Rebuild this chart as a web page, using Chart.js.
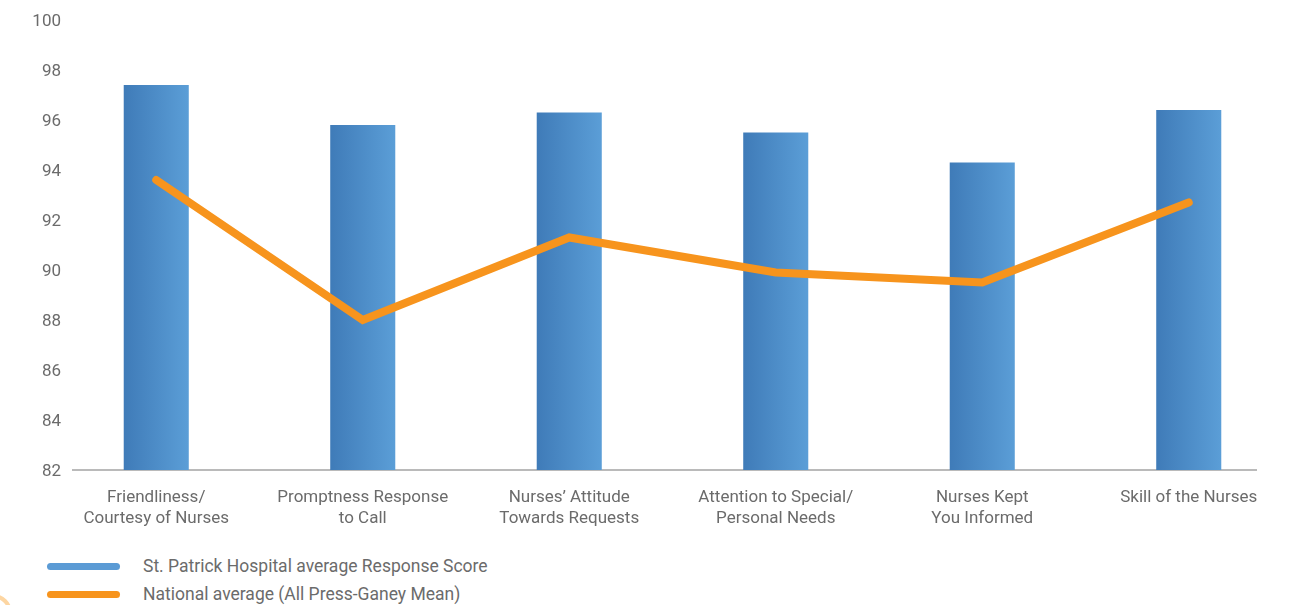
<!DOCTYPE html>
<html>
<head>
<meta charset="utf-8">
<title>Nursing Care Response Scores</title>
<script src="https://cdn.jsdelivr.net/npm/chart.js@4/dist/chart.umd.min.js"></script>
<style>
  html, body { margin: 0; padding: 0; background: #ffffff; overflow: hidden; }
  body { width: 1293px; height: 605px; position: relative; font-family: Roboto, "Open Sans", sans-serif; }
  #wrap { position: absolute; left: 0; top: 0; width: 1293px; height: 540px; }
  .legend { position: absolute; left: 47px; top: 552px; }
  .legend .row { display: flex; align-items: center; height: 28px; }
  .legend .swatch { width: 73px; height: 7px; border-radius: 4px; margin-right: 23px; }
  .legend .text { font-size: 17.5px; color: #6b6b6b; white-space: nowrap; }
  .corner { position: absolute; left: -26px; top: 594px; width: 30px; height: 30px; border-radius: 50%; border: 4px solid #fdd6a2; }
</style>
</head>
<body>
<div id="wrap"><canvas id="chart"></canvas></div>
<div class="legend">
  <div class="row"><div class="swatch" style="background:#5b9bd5"></div><div class="text">St. Patrick Hospital average Response Score</div></div>
  <div class="row"><div class="swatch" style="background:#f7941d"></div><div class="text">National average (All Press-Ganey Mean)</div></div>
</div>
<div class="corner"></div>
<script>
// Survey categories (two-line labels)
const categories = [
  ['Friendliness/', 'Courtesy of Nurses'],
  ['Promptness Response', 'to Call'],
  ['Nurses\u2019 Attitude', 'Towards Requests'],
  ['Attention to Special/', 'Personal Needs'],
  ['Nurses Kept', 'You Informed'],
  ['Skill of the Nurses']
];

// Hospital average response score per category
const hospitalScores = [97.4, 95.8, 96.3, 95.5, 94.3, 96.4];

// National Press-Ganey mean per category
const nationalScores = [93.6, 88.0, 91.3, 89.9, 89.5, 92.7];

// Value axis range and tick spacing
const yMin = 82;
const yMax = 100;
const yStep = 2;

const TEXT = '#6b6b6b';

Chart.defaults.font.family = 'Roboto, "Open Sans", sans-serif';
Chart.defaults.font.size = 17;
Chart.defaults.color = TEXT;

// Horizontal left-to-right gradient on every bar (each bar gets its own options copy)
const barGradient = {
  id: 'barGradient',
  beforeDatasetDraw(chart, args) {
    const meta = args.meta;
    if (meta.type !== 'bar') return;
    const ctx = chart.ctx;
    meta.data.forEach(el => {
      const { x, width } = el.getProps(['x', 'width'], true);
      const g = ctx.createLinearGradient(x - width / 2, 0, x + width / 2, 0);
      g.addColorStop(0, '#3f7bb8');
      g.addColorStop(1, '#5b9ed7');
      el.options = Object.assign({}, el.options, { backgroundColor: g });
    });
  }
};

// Value labels sit a little to the right of the plot's left edge
const yLabelShift = {
  id: 'yLabelShift',
  afterLayout(chart) {
    chart.scales.y.right += 9;
  }
};

// Baseline under the bars
const baseline = {
  id: 'baseline',
  beforeDatasetsDraw(chart) {
    const { ctx, chartArea } = chart;
    const y = chart.scales.y.getPixelForValue(yMin);
    ctx.save();
    ctx.strokeStyle = '#a3a3a3';
    ctx.lineWidth = 1.5;
    ctx.beginPath();
    ctx.moveTo(chartArea.left + 19, y);
    ctx.lineTo(chartArea.right - 35, y);
    ctx.stroke();
    ctx.restore();
  }
};

new Chart(document.getElementById('chart'), {
  data: {
    labels: categories,
    datasets: [
      {
        type: 'line',
        label: 'National average (All Press-Ganey Mean)',
        data: nationalScores,
        borderColor: '#f7941d',
        backgroundColor: '#f7941d',
        borderWidth: 8,
        borderCapStyle: 'round',
        borderJoinStyle: 'miter',
        pointRadius: 0,
        pointHoverRadius: 0,
        tension: 0,
        fill: false,
        order: 0
      },
      {
        type: 'bar',
        label: 'St. Patrick Hospital average Response Score',
        data: hospitalScores,
        backgroundColor: '#4c8cc8',
        borderWidth: 0,
        barPercentage: 0.315,
        categoryPercentage: 1,
        order: 1
      }
    ]
  },
  options: {
    responsive: true,
    maintainAspectRatio: false,
    animation: false,
    layout: { padding: { top: 20, left: 0, right: 1, bottom: 0 } },
    plugins: {
      legend: { display: false },
      tooltip: { enabled: false }
    },
    scales: {
      x: {
        offset: true,
        grid: { display: false, drawTicks: false },
        border: { display: false },
        ticks: {
          color: TEXT,
          padding: 17,
          maxRotation: 0,
          autoSkip: false,
          font: { size: 17, lineHeight: 1.24 }
        },
        afterFit(scale) { scale.height = 70; }
      },
      y: {
        min: yMin,
        max: yMax,
        grid: { display: false, drawTicks: false },
        border: { display: false },
        ticks: {
          stepSize: yStep,
          color: TEXT,
          padding: 1,
          labelOffset: 1.5,
          font: { size: 17 }
        },
        afterFit(scale) { scale.width = 53; }
      }
    }
  },
  plugins: [yLabelShift, barGradient, baseline]
});
</script>
</body>
</html>
